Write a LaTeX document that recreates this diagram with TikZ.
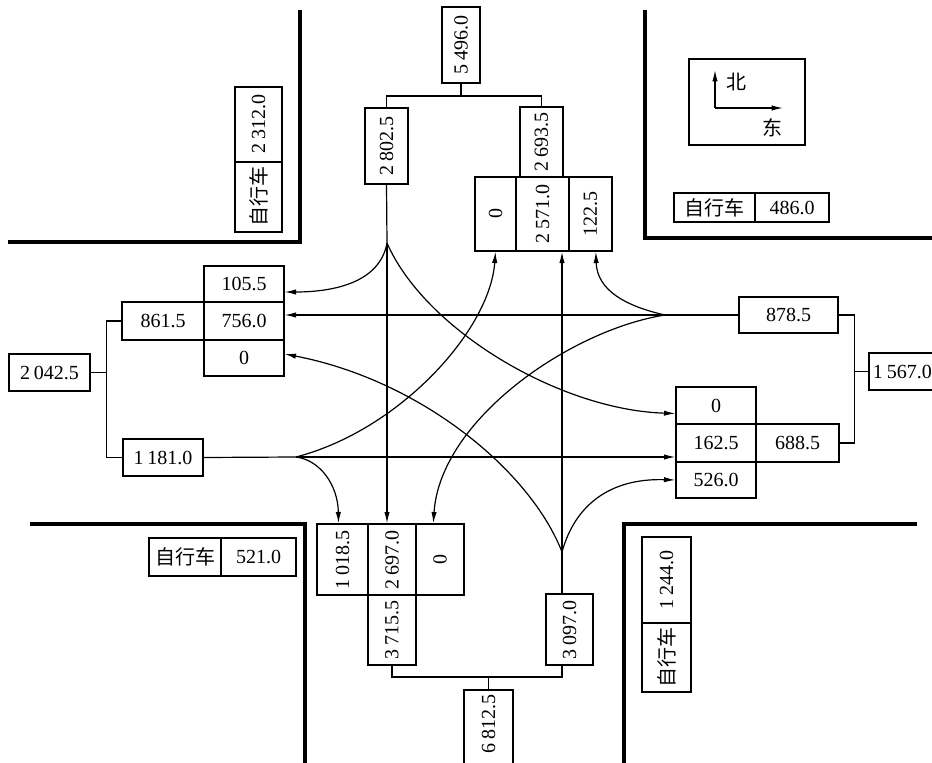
\documentclass[tikz,border=0pt]{standalone}
\usepackage{fontspec}
\usepackage{graphicx}
\setmainfont{Liberation Serif}
\newfontfamily\cjk{Noto Sans CJK SC}
\usetikzlibrary{arrows.meta}
\newcommand\ts{\hspace{0.2em}}
\newcommand\rt[1]{\rotatebox{90}{#1}}
% \cellbox{name}{x1}{y1}{x2}{y2}{text}
\newcommand\cellbox[6]{\node[cell,minimum width={0.75pt*(#4-#2)},minimum height={0.75pt*(#5-#3)}] (#1) at ({(#2+#4)/2},{(#3+#5)/2}) {#6};}
\begin{document}
\begin{tikzpicture}[x=0.75pt,y=-0.75pt,font=\fontsize{15}{17}\selectfont,
  cell/.style={draw,line width=1pt,inner sep=0pt},
  road/.style={line width=3pt},
  ln/.style={line width=0.9pt},
  arr/.style={ln,-{Latex[length=8.5pt,width=4pt]}}]
\path[use as bounding box] (0,0) rectangle (932,763);
\clip (0,0) rectangle (932,763);

% road edges
\draw[road] (8,242) -- (300,242) -- (300,10);
\draw[road] (645,10) -- (645,238) -- (940,238);
\draw[road] (30,524) -- (305,524) -- (305,770);
\draw[road] (624,770) -- (624,524) -- (917,524);

% north approach
\cellbox{n5496}{442}{7}{480}{83}{\rt{5\ts496.0}}
\cellbox{n2802}{365}{108}{408}{184}{\rt{2\ts802.5}}
\cellbox{n2693}{520}{107}{563}{177}{\rt{2\ts693.5}}
\cellbox{n0}{475}{177}{516}{251}{\rt{0}}
\cellbox{n2571}{516}{177}{569}{251}{\rt{2\ts571.0}}
\cellbox{n1225}{569}{177}{612}{251}{\rt{122.5}}
\coordinate (nj) at (461,96);
\draw[ln] (n5496.south) -- (nj);
\draw[ln] (n2802.north) |- (nj) -| (n2693.north);

% west approach
\cellbox{w1055}{204}{266}{284}{302}{105.5}
\cellbox{w756}{204}{302}{284}{340}{756.0}
\cellbox{w0}{204}{340}{284}{376}{0}
\cellbox{w8615}{122}{302}{204}{340}{861.5}
\cellbox{w2042}{9}{354}{90}{391}{2\ts042.5}
\cellbox{w1181}{123}{439}{203}{476}{1\ts181.0}
\coordinate (wj) at ([xshift=12pt]w2042.east);
\draw[ln] (w2042.east) -- (wj);
\draw[ln] (w8615.west) -| (wj) |- (w1181.west);

% east approach
\cellbox{e8785}{739}{297}{838}{333}{878.5}
\cellbox{e15670}{869}{353}{945}{390}{\hspace*{-7pt}1\ts567.0}
\cellbox{e0}{676}{387}{756}{424}{0}
\cellbox{e1625}{676}{424}{756}{462}{162.5}
\cellbox{e5260}{676}{462}{756}{498}{526.0}
\cellbox{e6885}{756}{424}{839}{462}{688.5}
\coordinate (ej) at ([xshift=-10.5pt]e15670.west);
\draw[ln] (e15670.west) -- (ej);
\draw[ln] (e8785.east) -| (ej) |- (e6885.east);

% south approach
\cellbox{s10185}{317}{524}{368}{595}{\rt{1\ts018.5}}
\cellbox{s2697}{368}{524}{416}{595}{\rt{2\ts697.0}}
\cellbox{s0}{416}{524}{464}{595}{\rt{0}}
\cellbox{s37155}{368}{595}{416}{665}{\rt{3\ts715.5}}
\cellbox{s3097}{546}{594}{593}{665}{\rt{3\ts097.0}}
\cellbox{s68125}{464}{690}{513}{772}{\rt{\hspace*{10pt}6\ts812.5}}

% conflict points
\coordinate (N) at (387,243);
\coordinate (E) at (665,315);
\coordinate (S) at (562,552);
\coordinate (W) at (296,457);

\coordinate (sj) at (488.5,677);
\draw[ln] (s37155.south) |- (sj) -| (s3097.south -| S);
\draw[ln] (sj) -- (s68125.north);

% from north
\draw[ln] (n2802.south) -- (N);
\draw[arr] (N) -- (N |- s2697.north);
\draw[arr] (N) .. controls (380,282) and (335,292) .. ([yshift=-6pt]w1055.east);
\draw[arr] (N) .. controls (425,330) and (560,410) .. ([yshift=-6pt]e0.west);

% from east
\draw[ln] (e8785.west) -- (E);
\draw[arr] (E) -- (E -| w756.east);
\draw[arr] (E) .. controls (625,306) and (597,290) .. ([xshift=4pt]n1225.south);
\draw[arr] (E) .. controls (570,330) and (440,420) .. ([xshift=-5pt]s0.north);

% from south
\draw[ln] (s3097.north -| S) -- (S);
\draw[arr] (S) -- (S |- n2571.south);
\draw[arr] (S) .. controls (575,505) and (610,478) .. (e5260.west);
\draw[arr] (S) .. controls (530,470) and (420,380) .. ([yshift=3pt]w0.east);

% from west
\draw[ln] (w1181.east) -- (W);
\draw[arr] (W) -- (W -| e1625.west);
\draw[arr] (W) .. controls (320,460) and (338,485) .. ([xshift=-3pt]s10185.north);
\draw[arr] (W) .. controls (400,430) and (490,330) .. (n0.south);

% compass
\cellbox{cmp}{689}{59}{805}{145}{}
\coordinate (co) at (715,108);
\coordinate (cn) at (715,70);
\coordinate (ce) at (783,108);
\draw[arr] (co) -- (cn);
\draw[arr] (co) -- (ce);
\node[inner sep=0pt] (bei) at (736,82) {\cjk 北};
\node[inner sep=0pt] (dong) at (772,128) {\cjk 东};

% bicycles
\cellbox{bkne1}{674}{193}{755}{222}{\cjk 自行车}
\cellbox{bkne2}{755}{193}{829}{222}{486.0}
\cellbox{bknw2}{235}{87}{282}{162}{\rt{2\ts312.0}}
\cellbox{bknw1}{235}{162}{282}{232}{\rt{\cjk 自行车}}
\cellbox{bksw1}{149}{538}{221}{576}{\cjk 自行车}
\cellbox{bksw2}{221}{538}{296}{576}{521.0}
\cellbox{bkse2}{642}{537}{691}{623}{\rt{1\ts244.0}}
\cellbox{bkse1}{642}{623}{691}{692}{\rt{\cjk 自行车}}
\end{tikzpicture}
\end{document}
